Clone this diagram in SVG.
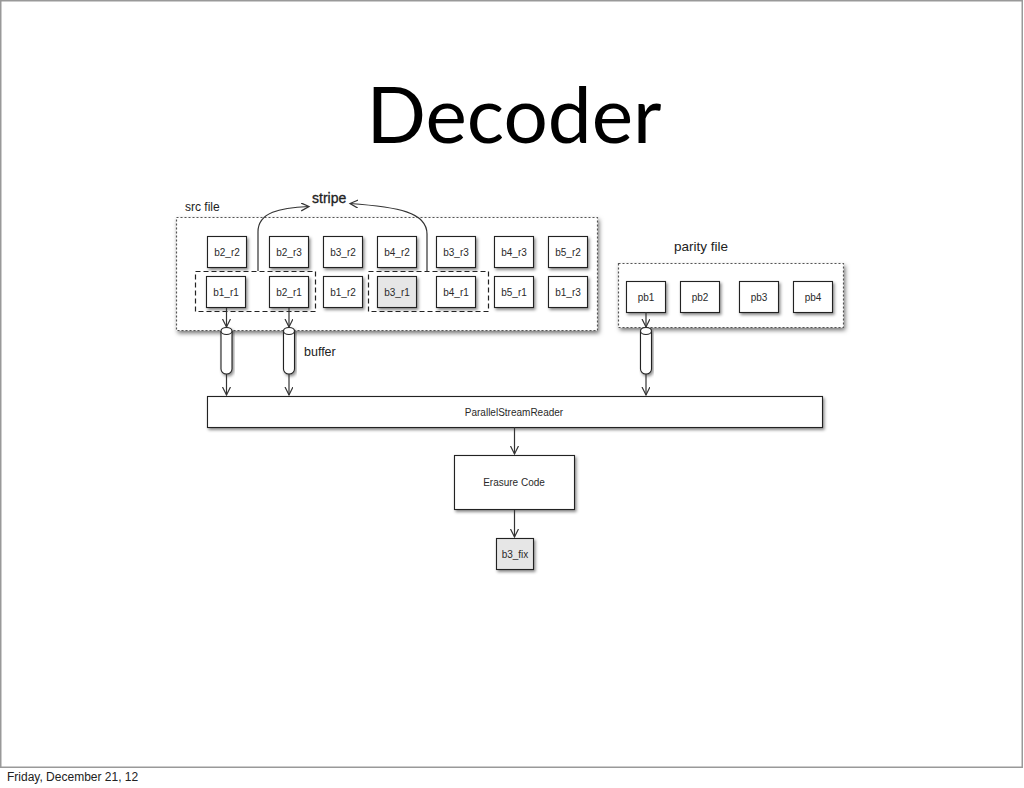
<svg xmlns="http://www.w3.org/2000/svg" width="1024" height="788" viewBox="0 0 1024 788">
<style>
.lbl{font-family:"Liberation Sans",Arial,sans-serif;font-size:10px;fill:#2a2a2a;text-anchor:middle}
.cap{font-family:"Liberation Sans",Arial,sans-serif;fill:#222}
.box{fill:#fff;stroke:#222;stroke-width:1.1}
.grp{fill:none;stroke:#222;stroke-width:1.2;stroke-dasharray:5,3}
.file{fill:#fff;stroke:#555;stroke-width:1.2;stroke-dasharray:2,2}
.cyl{fill:#fff;stroke:#222;stroke-width:1.1}
.con{fill:none;stroke:#333;stroke-width:1.2;marker-end:url(#ah)}
</style>
<defs>
<filter id="sh" x="-10%" y="-20%" width="130%" height="160%">
<feDropShadow dx="1.5" dy="2" stdDeviation="1.6" flood-color="#000" flood-opacity="0.45"/>
</filter>
<filter id="shf" x="-10%" y="-20%" width="130%" height="160%">
<feDropShadow dx="1.5" dy="2.5" stdDeviation="2" flood-color="#000" flood-opacity="0.55"/>
</filter>
<marker id="ah" markerWidth="10" markerHeight="10" refX="8" refY="4" orient="auto" markerUnits="userSpaceOnUse">
<path d="M0,0 L8,4 L0,8" fill="none" stroke="#333" stroke-width="1.2"/>
</marker>
</defs>
<rect x="0.75" y="0.75" width="1021.5" height="766.5" fill="#fff" stroke="#999" stroke-width="1.5"/>
<text x="514" y="143" font-family="Lato, 'Liberation Sans', sans-serif" font-size="78" text-anchor="middle" textLength="295" lengthAdjust="spacingAndGlyphs" fill="#000">Decoder</text>
<text x="7" y="781" font-family="'Liberation Sans', Arial, sans-serif" font-size="12" fill="#222">Friday, December 21, 12</text>

<g id="src-file">
<rect x="176.5" y="217.5" width="421" height="113" class="file" filter="url(#shf)"/>
<text x="185" y="211" class="cap" font-size="12">src file</text>
</g>
<g id="parity-file">
<rect x="618.5" y="263.5" width="225" height="64" class="file" filter="url(#shf)"/>
<text x="674" y="251" class="cap" font-size="13.5">parity file</text>
</g>

<g id="b2_r2"><rect x="207.5" y="236.5" width="39" height="31" class="box" filter="url(#sh)"/><text x="227" y="255.5" class="lbl">b2_r2</text></g>
<g id="b2_r3"><rect x="269.5" y="236.5" width="39" height="31" class="box" filter="url(#sh)"/><text x="289" y="255.5" class="lbl">b2_r3</text></g>
<g id="b3_r2"><rect x="323.5" y="236.5" width="39" height="31" class="box" filter="url(#sh)"/><text x="343" y="255.5" class="lbl">b3_r2</text></g>
<g id="b4_r2"><rect x="377.5" y="236.5" width="39" height="31" class="box" filter="url(#sh)"/><text x="397" y="255.5" class="lbl">b4_r2</text></g>
<g id="b3_r3"><rect x="436.5" y="236.5" width="39" height="31" class="box" filter="url(#sh)"/><text x="456" y="255.5" class="lbl">b3_r3</text></g>
<g id="b4_r3"><rect x="494.5" y="236.5" width="39" height="31" class="box" filter="url(#sh)"/><text x="514" y="255.5" class="lbl">b4_r3</text></g>
<g id="b5_r2"><rect x="548.5" y="236.5" width="39" height="31" class="box" filter="url(#sh)"/><text x="568" y="255.5" class="lbl">b5_r2</text></g>

<g id="b1_r1"><rect x="206.5" y="276.5" width="39" height="31" class="box" filter="url(#sh)"/><text x="226" y="295.5" class="lbl">b1_r1</text></g>
<g id="b2_r1"><rect x="269.5" y="276.5" width="39" height="31" class="box" filter="url(#sh)"/><text x="289" y="295.5" class="lbl">b2_r1</text></g>
<g id="b1_r2"><rect x="323.5" y="276.5" width="39" height="31" class="box" filter="url(#sh)"/><text x="343" y="295.5" class="lbl">b1_r2</text></g>
<g id="b3_r1"><rect x="377.5" y="276.5" width="39" height="31" class="box" style="fill:#e6e6e6" filter="url(#sh)"/><text x="397" y="295.5" class="lbl">b3_r1</text></g>
<g id="b4_r1"><rect x="436.5" y="276.5" width="39" height="31" class="box" filter="url(#sh)"/><text x="456" y="295.5" class="lbl">b4_r1</text></g>
<g id="b5_r1"><rect x="494.5" y="276.5" width="39" height="31" class="box" filter="url(#sh)"/><text x="514" y="295.5" class="lbl">b5_r1</text></g>
<g id="b1_r3"><rect x="548.5" y="276.5" width="39" height="31" class="box" filter="url(#sh)"/><text x="568" y="295.5" class="lbl">b1_r3</text></g>

<g id="stripe1"><rect x="195.5" y="271.5" width="120" height="40" class="grp"/></g>
<g id="stripe2"><rect x="368.5" y="271.5" width="120" height="40" class="grp"/></g>
<g id="stripe-label"><text x="312" y="203" class="cap" font-size="14" stroke="#222" stroke-width="0.3">stripe</text></g>

<g id="pb1"><rect x="626.5" y="281.5" width="39" height="31" class="box" filter="url(#sh)"/><text x="646" y="300.5" class="lbl">pb1</text></g>
<g id="pb2"><rect x="680.5" y="281.5" width="39" height="31" class="box" filter="url(#sh)"/><text x="700" y="300.5" class="lbl">pb2</text></g>
<g id="pb3"><rect x="739.5" y="281.5" width="39" height="31" class="box" filter="url(#sh)"/><text x="759" y="300.5" class="lbl">pb3</text></g>
<g id="pb4"><rect x="793.5" y="281.5" width="39" height="31" class="box" filter="url(#sh)"/><text x="813" y="300.5" class="lbl">pb4</text></g>

<g id="buffer1" filter="url(#sh)">
<path d="M221,331 L221,369 A5.5,5 0 0 0 232,369 L232,331" class="cyl"/>
<ellipse cx="226.5" cy="331" rx="5.5" ry="3.5" class="cyl"/>
</g>
<g id="buffer2" filter="url(#sh)">
<path d="M283.5,331 L283.5,369 A5.5,5 0 0 0 294.5,369 L294.5,331" class="cyl"/>
<ellipse cx="289" cy="331" rx="5.5" ry="3.5" class="cyl"/>
</g>
<g id="buffer3" filter="url(#sh)">
<path d="M640.5,331 L640.5,369 A5.5,5 0 0 0 651.5,369 L651.5,331" class="cyl"/>
<ellipse cx="646" cy="331" rx="5.5" ry="3.5" class="cyl"/>
</g>
<g id="buffer-label"><text x="304" y="356" class="cap" font-size="12.5">buffer</text></g>

<g id="ParallelStreamReader">
<rect x="207.5" y="396.5" width="615" height="31" class="box" filter="url(#sh)"/>
<text x="514" y="416" class="lbl">ParallelStreamReader</text>
</g>
<g id="ErasureCode">
<rect x="454.5" y="455.5" width="120" height="54" class="box" filter="url(#sh)"/>
<text x="514" y="486" class="lbl">Erasure Code</text>
</g>
<g id="b3_fix">
<rect x="496.5" y="538.5" width="37" height="31" class="box" style="fill:#e6e6e6" filter="url(#sh)"/>
<text x="515" y="557.5" class="lbl">b3_fix</text>
</g>

<g id="connectors">
<path d="M258,271 L258,232 C258,212 280,208 309,206.5" class="con"/>
<path d="M427,271 L427,234 C427,212 398,207 350,203.5" class="con"/>
<path d="M226.5,308 L226.5,327" class="con"/>
<path d="M289,308 L289,327" class="con"/>
<path d="M646,312 L646,327" class="con"/>
<path d="M226.5,374 L226.5,395" class="con"/>
<path d="M289,374 L289,395" class="con"/>
<path d="M646,374 L646,395" class="con"/>
<path d="M514.5,427 L514.5,454" class="con"/>
<path d="M514.5,510 L514.5,537" class="con"/>
</g>
</svg>
